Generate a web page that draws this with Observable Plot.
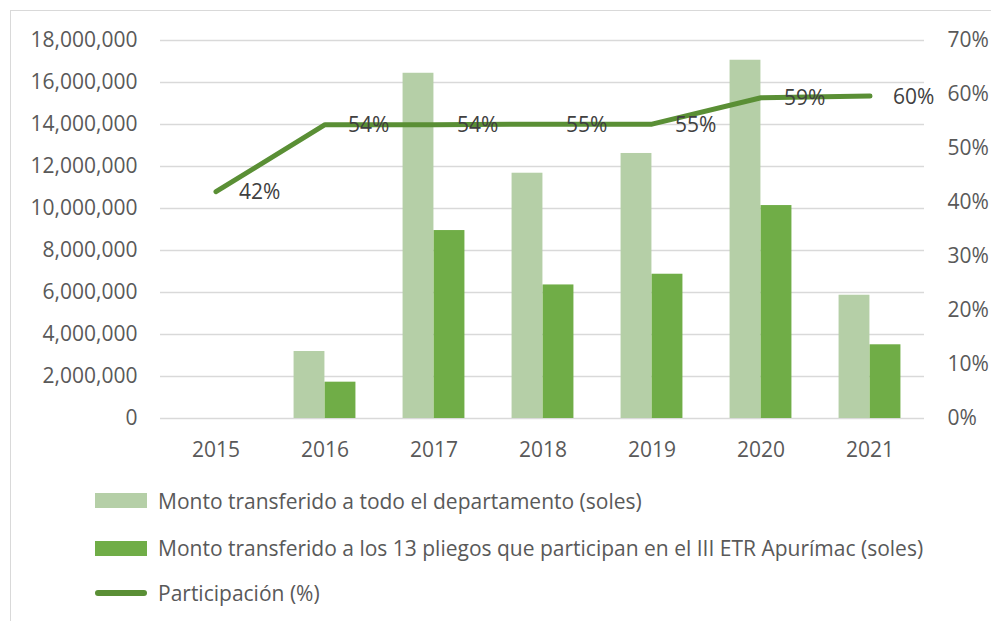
<!DOCTYPE html>
<html>
<head>
<meta charset="utf-8">
<script src="https://cdn.jsdelivr.net/npm/d3@7"></script>
<script src="https://cdn.jsdelivr.net/npm/@observablehq/plot@0.6"></script>
<style>
  html, body { margin: 0; padding: 0; background: #fff; }
  body { width: 991px; height: 621px; position: relative; overflow: hidden; font-family: "Open Sans", sans-serif; }
  #frame { position: absolute; left: 10px; top: 10px; width: 1200px; height: 800px;
           border-left: 1.5px solid #d9d9d9; border-top: 1.5px solid #d9d9d9; }
  #chart { position: absolute; left: 0; top: 0; }
  .leg { position: absolute; left: 95px; height: 30px; display: flex; align-items: center; }
  .leg .sw { width: 52px; margin-right: 11px; }
  .leg .txt { font-size: 21px; color: #595959; white-space: nowrap; }
</style>
</head>
<body>
<div id="frame"></div>
<div id="chart"></div>
<div id="legend"></div>
<script>
const years = ["2015", "2016", "2017", "2018", "2019", "2020", "2021"];
const montoDepartamento = [0, 3190000, 16440000, 11680000, 12620000, 17060000, 5870000];
const montoPliegos = [0, 1730000, 8950000, 6360000, 6870000, 10140000, 3510000];
const participacion = [0.420, 0.544, 0.544, 0.5451, 0.5451, 0.594, 0.597];
const leftTicks = [0, 2000000, 4000000, 6000000, 8000000, 10000000, 12000000, 14000000, 16000000, 18000000];
const rightTicks = [0, 0.1, 0.2, 0.3, 0.4, 0.5, 0.6, 0.7];
const seriesNames = [
  "Monto transferido a todo el departamento (soles)",
  "Monto transferido a los 13 pliegos que participan en el III ETR Apurímac (soles)",
  "Participación (%)"
];
const colors = ["#b5cfa7", "#70ad47", "#5a8f35"];

const leftMax = 18000000, rightMax = 0.7;
const k = leftMax / rightMax;

const W = 991, H = 470;
const mL = 160, mR = 67, mT = 40, mB = 52;
const band = (W - mL - mR) / years.length;
const barW = 31;

const barsA = years.map((y, i) => ({year: y, v: montoDepartamento[i]}));
const barsB = years.map((y, i) => ({year: y, v: montoPliegos[i]}));
const pts = years.map((y, i) => ({year: y, p: participacion[i], v: participacion[i] * k}));

const fmt = d3.format(",");
const chart = Plot.plot({
  width: W, height: H,
  marginLeft: mL, marginRight: mR, marginTop: mT, marginBottom: mB,
  style: {fontFamily: "Open Sans", fontSize: "21px", color: "#595959", background: "transparent"},
  x: {domain: years, padding: 0, label: null},
  y: {domain: [0, leftMax], label: null},
  marks: [
    Plot.gridY(leftTicks, {stroke: "#d9d9d9", strokeOpacity: 1, strokeWidth: 1.6}),
    Plot.barY(barsA.filter(d => d.v > 0), {x: "year", y: "v", fill: colors[0],
      insetLeft: band / 2 - barW, insetRight: band / 2}),
    Plot.barY(barsB.filter(d => d.v > 0), {x: "year", y: "v", fill: colors[1],
      insetLeft: band / 2, insetRight: band / 2 - barW}),
    Plot.line(pts, {x: "year", y: "v", stroke: colors[2], strokeWidth: 5, strokeLinecap: "round", strokeLinejoin: "miter"}),
    Plot.text(pts, {x: "year", y: "v", text: d => Math.round(d.p * 100) + "%", textAnchor: "start",
      dx: 23, dy: 1, fill: "#404040", fontSize: 21}),
    Plot.axisY(leftTicks, {anchor: "left", tickSize: 0, tickPadding: 23, tickFormat: fmt, label: null}),
    Plot.axisY(rightTicks.map(p => p * k), {anchor: "right", tickSize: 0, tickPadding: 23,
      tickFormat: v => Math.round(v / k * 100) + "%", label: null}),
    Plot.axisX({anchor: "bottom", tickSize: 0, tickPadding: 24, label: null})
  ]
});
document.getElementById("chart").appendChild(chart);

// Legend (below the plot)
const legend = document.getElementById("legend");
const rowsY = [500.5, 548, 592.5];
seriesNames.forEach((name, i) => {
  const row = document.createElement("div");
  row.className = "leg";
  row.style.top = (rowsY[i] - 15) + "px";
  const sw = document.createElement("div");
  sw.className = "sw";
  if (i < 2) {
    sw.style.height = "15px";
    sw.style.background = colors[i];
  } else {
    sw.style.height = "6px";
    sw.style.borderRadius = "3px";
    sw.style.background = colors[i];
  }
  const t = document.createElement("span");
  t.className = "txt";
  t.textContent = name;
  row.appendChild(sw);
  row.appendChild(t);
  legend.appendChild(row);
});
</script>
</body>
</html>
